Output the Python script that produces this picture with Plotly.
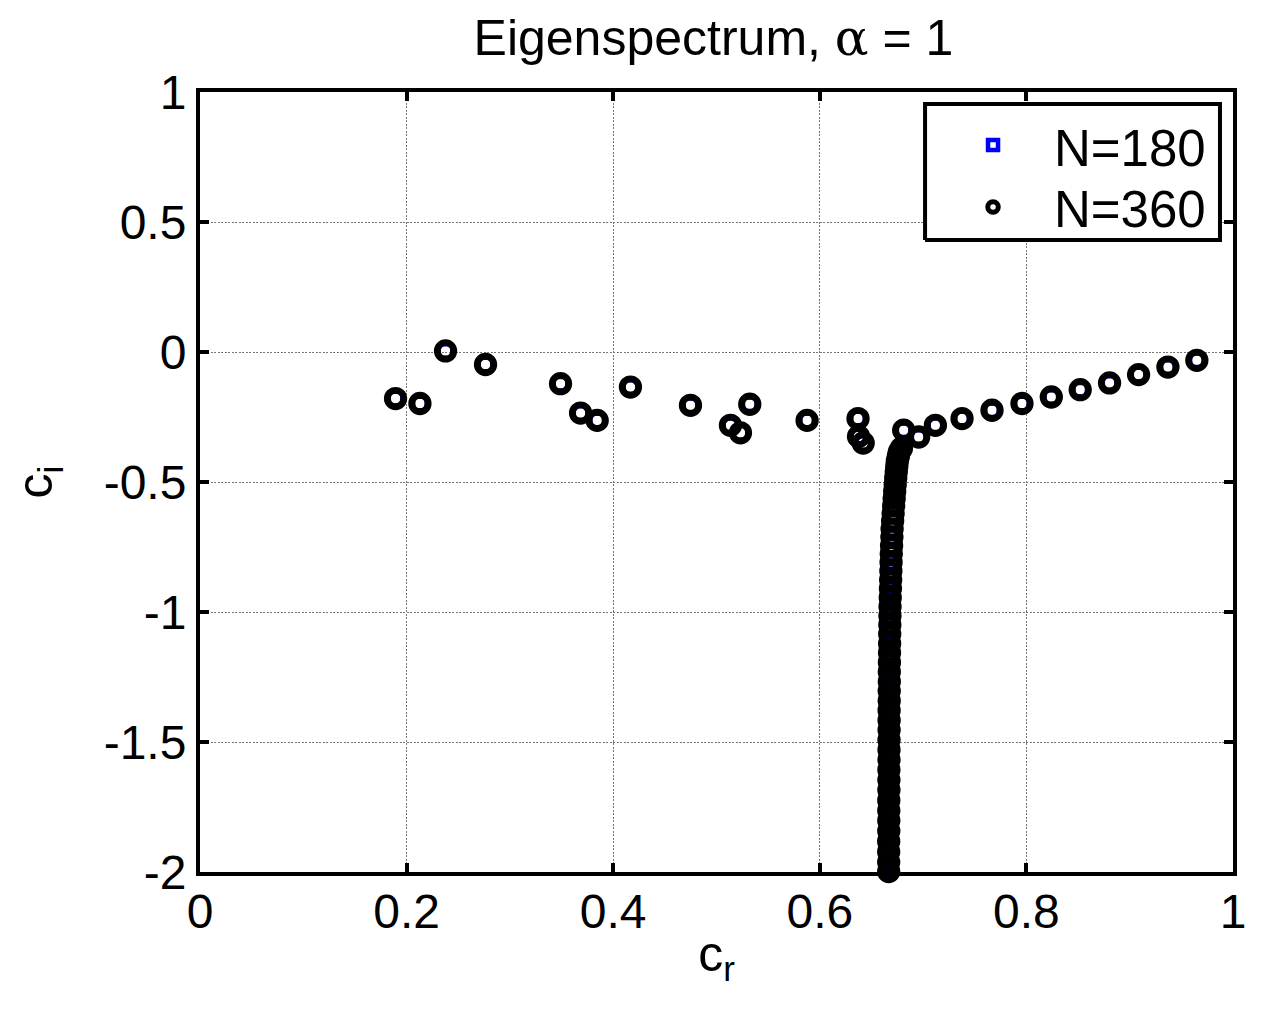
import plotly.graph_objects as go

# Discrete eigenvalues c = c_r + i c_i (A and P families, upper arc)
cr_arc = [0.1893, 0.2129, 0.2377, 0.2764, 0.3490, 0.3684, 0.3845, 0.4167,
          0.4748, 0.5135, 0.5232, 0.5322, 0.5877, 0.6370, 0.6375, 0.6420,
          0.6812, 0.6957, 0.7119, 0.7377, 0.7667, 0.7957, 0.8241, 0.8521,
          0.8805, 0.9086, 0.9370, 0.9650]
ci_arc = [-0.179, -0.198, 0.004, -0.048, -0.122, -0.235, -0.263, -0.135,
          -0.205, -0.282, -0.311, -0.201, -0.263, -0.256, -0.325, -0.350,
          -0.301, -0.327, -0.282, -0.256, -0.224, -0.198, -0.173, -0.145,
          -0.119, -0.087, -0.058, -0.032]

# S family, near c_r = 2/3
cr_s = [0.679, 0.677, 0.676, 0.675, 0.6745, 0.674, 0.6735, 0.673, 0.6725,
        0.672, 0.6715, 0.671, 0.6705, 0.670, 0.6698, 0.6695, 0.6692, 0.669,
        0.6688, 0.6686, 0.6684, 0.6682, 0.668, 0.6679, 0.6678, 0.6677,
        0.6676, 0.6675, 0.6674, 0.6673, 0.6673, 0.6672, 0.6672, 0.6671,
        0.6671, 0.6671, 0.6670, 0.6670, 0.6670, 0.6669, 0.6669, 0.6669,
        0.6668, 0.6668, 0.6668, 0.6668, 0.6667, 0.6667, 0.6667, 0.6667]
ci_s = [-0.370, -0.385, -0.402, -0.420, -0.440, -0.462, -0.485, -0.510,
        -0.536, -0.563, -0.591, -0.620, -0.650, -0.681, -0.712, -0.744,
        -0.776, -0.809, -0.842, -0.876, -0.910, -0.944, -0.979, -1.014,
        -1.049, -1.085, -1.121, -1.157, -1.193, -1.230, -1.267, -1.304,
        -1.341, -1.378, -1.416, -1.454, -1.492, -1.530, -1.568, -1.607,
        -1.646, -1.685, -1.724, -1.763, -1.802, -1.842, -1.882, -1.922,
        -1.962, -1.998]

series_names = ["N=180", "N=360"]

x_ticks = [0, 0.2, 0.4, 0.6, 0.8, 1]
x_ticktext = ["0", "0.2", "0.4", "0.6", "0.8", "1"]
y_ticks = [-2, -1.5, -1, -0.5, 0, 0.5, 1]
y_ticktext = ["-2", "-1.5", "-1", "-0.5", "0", "0.5", "1"]

FONT = "Liberation Sans, Arial, sans-serif"

cr_all = cr_arc + cr_s
ci_all = ci_arc + ci_s

# marker styles per resolution
style_180 = dict(symbol="square-open", color="#0000ff")
style_360 = dict(symbol="circle-open", color="black")

fig = go.Figure()

# N=180: blue squares (drawn first, mostly hidden under the circles)
fig.add_trace(go.Scatter(
    x=cr_all, y=ci_all, mode="markers", name=series_names[0],
    showlegend=False, cliponaxis=False,
    marker=dict(size=11, line=dict(width=2, color=style_180["color"]), **style_180),
))
# N=360: thick black circles
fig.add_trace(go.Scatter(
    x=cr_all, y=ci_all, mode="markers", name=series_names[1],
    showlegend=False, cliponaxis=False,
    marker=dict(size=16.5, line=dict(width=6.8, color=style_360["color"]), **style_360),
))

# Legend box on an overlay axis spanning the plot area in [0, 1] units
box_x = [0.7019, 0.9874, 0.9874, 0.7019, 0.7019]
box_y = [0.8103, 0.8103, 0.9846, 0.9846, 0.8103]
fig.add_trace(go.Scatter(
    x=box_x, y=box_y, xaxis="x2", yaxis="y2", mode="lines",
    fill="toself", fillcolor="white", line=dict(color="black", width=4),
    showlegend=False, hoverinfo="skip", cliponaxis=False,
))
fig.add_trace(go.Scatter(
    x=[0.7677], y=[0.9321], xaxis="x2", yaxis="y2", mode="markers",
    showlegend=False, hoverinfo="skip", cliponaxis=False,
    marker=dict(size=10, line=dict(width=4.5, color=style_180["color"]), **style_180),
))
fig.add_trace(go.Scatter(
    x=[0.7677], y=[0.8526], xaxis="x2", yaxis="y2", mode="markers",
    showlegend=False, hoverinfo="skip", cliponaxis=False,
    marker=dict(size=10.5, line=dict(width=5, color=style_360["color"]), **style_360),
))
for name, ypos in zip(series_names, [0.9270, 0.8500]):
    fig.add_annotation(
        text=name, xref="paper", yref="paper", x=0.8248, y=ypos,
        xanchor="left", yanchor="middle", showarrow=False,
        font=dict(family=FONT, size=51, color="black"),
    )

axis_common = dict(
    showline=True, linecolor="black", linewidth=4, mirror="ticks",
    ticks="inside", ticklen=9, tickwidth=4, tickcolor="black",
    showgrid=True, gridcolor="#777777", gridwidth=1, griddash="2px,1.5px",
    zeroline=False, tickfont=dict(family=FONT, size=48, color="black"),
)

fig.update_xaxes(
    range=[0, 1], tickvals=x_ticks, ticktext=x_ticktext, ticklabelstandoff=-6,
    title=dict(text="c<sub>r</sub>", font=dict(family=FONT, size=50, color="black"),
               standoff=0),
    **axis_common,
)
fig.update_yaxes(
    range=[-2, 1], tickvals=y_ticks, ticktext=y_ticktext,
    title=dict(text="c<sub>i</sub>", font=dict(family=FONT, size=50, color="black"),
               standoff=36),
    **axis_common,
)

fig.update_layout(
    width=1265, height=1013,
    margin=dict(l=200, r=32, t=92, b=141),
    paper_bgcolor="white", plot_bgcolor="white",
    xaxis2=dict(overlaying="x", range=[0, 1], visible=False, fixedrange=True),
    yaxis2=dict(overlaying="y", range=[0, 1], visible=False, fixedrange=True),
    title=dict(
        text="Eigenspectrum, <span style=\"font-family:'DejaVu Serif'\">α</span> = 1",
        x=0.564, xanchor="center", xref="container",
        y=0.963, yanchor="middle", yref="container",
        font=dict(family=FONT, size=50, color="black"),
    ),
    showlegend=False,
)

fig.write_html("out.html")
